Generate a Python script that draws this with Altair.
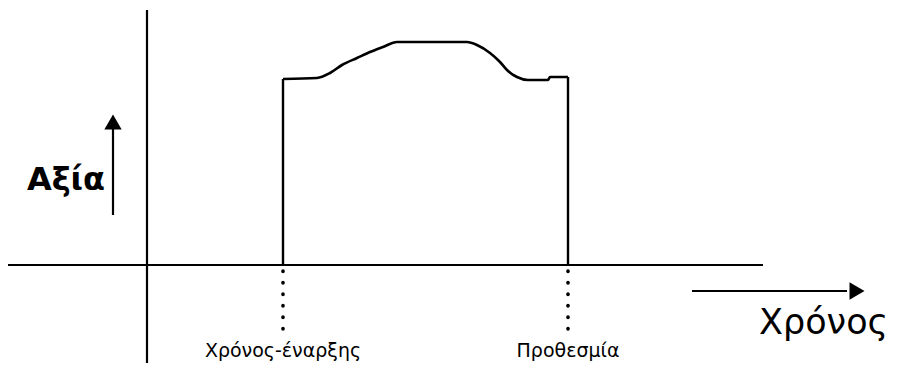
import altair as alt
import pandas as pd

# Coordinates in diagram units (origin = intersection of the two axes)
curve_x = [136, 170, 183, 195, 210, 223, 236, 250, 320, 330, 343, 353, 360, 370, 381, 401, 403, 421]
curve_y = [186, 187, 192, 200, 207, 213, 218, 223, 223, 220, 212, 203, 195, 188, 185, 185, 188, 188]

start_time = 136
deadline = 421
start_value = 186
end_value = 188

label_texts = ["Χρόνος-έναρξης", "Προθεσμία"]
label_x = [start_time, deadline]

xs = alt.Scale(domain=[-139, 745], nice=False, zero=False)
ys = alt.Scale(domain=[-98, 257], nice=False, zero=False)

def X(f="x"):
    return alt.X(f"{f}:Q", scale=xs, axis=None)

def Y(f="y"):
    return alt.Y(f"{f}:Q", scale=ys, axis=None)

# Main axes
axes_df = pd.DataFrame({
    "x": [-139, 0], "x2": [616, 0], "y": [0, -98], "y2": [0, 255]
})
axes = alt.Chart(axes_df).mark_rule(color="black", strokeWidth=2.2).encode(
    x=X(), x2="x2:Q", y=Y(), y2="y2:Q"
)

# Value curve
curve_df = pd.DataFrame({"x": curve_x, "y": curve_y, "i": list(range(len(curve_x)))})
curve = alt.Chart(curve_df).mark_line(color="black", strokeWidth=2.6, interpolate="monotone").encode(
    x=X(), y=Y(), order="i:Q"
)

# Vertical steps
steps_df = pd.DataFrame({"x": [start_time, deadline], "y": [0, 0], "y2": [start_value, end_value]})
steps = alt.Chart(steps_df).mark_rule(color="black", strokeWidth=2.4).encode(
    x=X(), y=Y(), y2="y2:Q"
)

# Dotted drop lines
dots_df = pd.DataFrame({"x": [start_time, deadline], "y": [-6, -6], "y2": [-72, -72]})
dots = alt.Chart(dots_df).mark_rule(
    color="black", strokeWidth=3.6, strokeDash=[0.5, 11], strokeCap="round"
).encode(x=X(), y=Y(), y2="y2:Q")

# Labels under the axis
labels_df = pd.DataFrame({"x": label_x, "y": [-92, -92], "t": label_texts})
labels = alt.Chart(labels_df).mark_text(
    font="DejaVu Sans", fontSize=19, align="center",
    baseline="alphabetic", color="black"
).encode(x=X(), y=Y(), text="t:N")

# Value arrow
varrow_df = pd.DataFrame({"x": [-34], "y": [50], "y2": [140]})
varrow = alt.Chart(varrow_df).mark_rule(color="black", strokeWidth=2.2).encode(
    x=X(), y=Y(), y2="y2:Q"
)
vhead = alt.Chart(pd.DataFrame({"x": [-34], "y": [143]})).mark_point(
    shape="triangle-up", filled=True, color="black", opacity=1, size=300
).encode(x=X(), y=Y())

# Time arrow
harrow_df = pd.DataFrame({"x": [545], "x2": [700], "y": [-26]})
harrow = alt.Chart(harrow_df).mark_rule(color="black", strokeWidth=2.2).encode(
    x=X(), x2="x2:Q", y=Y()
)
hhead = alt.Chart(pd.DataFrame({"x": [710], "y": [-26]})).mark_point(
    shape="triangle-right", filled=True, color="black", opacity=1, size=300
).encode(x=X(), y=Y())

# Axis titles
vtitle = alt.Chart(pd.DataFrame({"x": [-42], "y": [75], "t": ["Αξία"]})).mark_text(
    font="DejaVu Sans", fontSize=32, fontWeight="bold", align="right",
    baseline="alphabetic", color="black"
).encode(x=X(), y=Y(), text="t:N")
htitle = alt.Chart(pd.DataFrame({"x": [612], "y": [-69], "t": ["Χρόνος"]})).mark_text(
    font="DejaVu Sans", fontSize=35, align="left", baseline="alphabetic", color="black"
).encode(x=X(), y=Y(), text="t:N")

chart = alt.layer(
    axes, curve, steps, dots, labels, varrow, vhead, harrow, hhead, vtitle, htitle
).properties(
    width=884, height=355, padding=0, autosize=alt.AutoSizeParams(type="none"),
    background="white"
).configure_view(stroke=None)

chart.save("out.html", embed_options={"renderer": "svg", "actions": False})
